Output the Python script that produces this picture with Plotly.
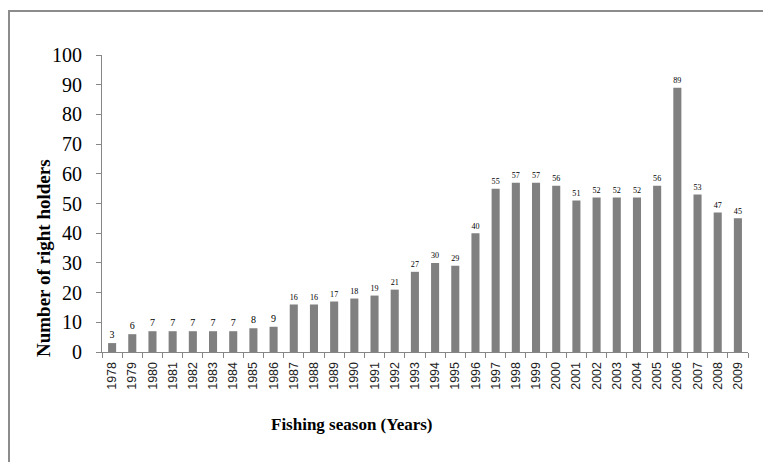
import plotly.graph_objects as go

years = [str(y) for y in range(1978, 2010)]
values = [3, 6, 7, 7, 7, 7, 7, 8, 8.5, 16, 16, 17, 18, 19, 21, 27, 30, 29, 40, 55,
          57, 57, 56, 51, 52, 52, 52, 56, 89, 53, 47, 45]
labels = ["3", "6", "7", "7", "7", "7", "7", "8", "9", "16", "16", "17", "18", "19", "21", "27",
          "30", "29", "40", "55", "57", "57", "56", "51", "52", "52", "52", "56", "89", "53", "47", "45"]

OFF = 8  # page body margin offset
W, H = 771, 462
# desired screen positions of plot area
SL, SR, ST, SB = 102, 748, 55, 352
L, T = SL - OFF, ST - OFF
R = W - (SR - OFF)
B = H - (SB - OFF)
pw, ph = W - L - R, H - T - B

def px(x):
    return (x - OFF - L) / pw

def py(y):
    return (H - B - (y - OFF)) / ph

fig = go.Figure(go.Bar(
    x=years, y=values, marker_color="#808080", marker_line_width=0,
    text=labels, textposition="outside", cliponaxis=False,
    textfont=dict(family="Liberation Serif", size=10, color="black"),
))

fig.update_layout(
    width=W, height=H, margin=dict(l=L, r=R, t=T, b=B),
    plot_bgcolor="white", paper_bgcolor="white", bargap=0.6, showlegend=False,
    xaxis=dict(type="category", showline=True, linecolor="#868686", linewidth=1,
               ticks="outside", tickson="boundaries", ticklen=5, tickcolor="#868686",
               tickangle=-90, ticklabelstandoff=4,
               tickfont=dict(family="Liberation Sans", size=12.5, color="#222222"),
               showgrid=False),
    yaxis=dict(range=[0, 100], dtick=10, showline=True, linecolor="#868686", linewidth=1,
               ticks="outside", ticklen=5, tickcolor="#868686", showgrid=False, zeroline=False,
               ticklabelstandoff=10,
               tickfont=dict(family="Liberation Serif", size=20, color="black")),
    shapes=[
        dict(type="line", xref="paper", yref="paper", x0=px(OFF), x1=px(W + 20), y0=py(11), y1=py(11),
             line=dict(color="#8c8c8c", width=2)),
        dict(type="line", xref="paper", yref="paper", x0=px(OFF + 1), x1=px(OFF + 1), y0=py(10), y1=py(H + 20),
             line=dict(color="#8c8c8c", width=2)),
    ],
    annotations=[
        dict(text="<b>Number of right holders</b>", xref="paper", yref="paper",
             x=px(43), y=py(258), xanchor="center", yanchor="middle", textangle=-90, showarrow=False,
             font=dict(family="Liberation Serif", size=19, color="black")),
        dict(text="<b>Fishing season (Years)</b>", xref="paper", yref="paper",
             x=px(352), y=py(425), xanchor="center", yanchor="middle", showarrow=False,
             font=dict(family="Liberation Serif", size=17, color="black")),
    ],
)

fig.write_html("out.html")
